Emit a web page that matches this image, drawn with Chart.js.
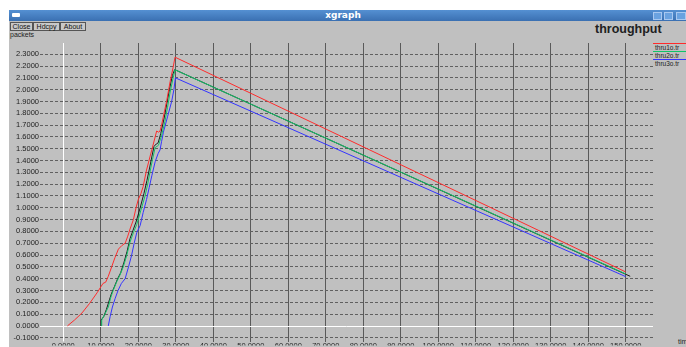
<!DOCTYPE html>
<html>
<head>
<meta charset="utf-8">
<script src="https://cdn.jsdelivr.net/npm/chart.js@4/dist/chart.umd.min.js"></script>
<style>
  html, body { margin: 0; padding: 0; background: #ffffff; }
  body { width: 686px; height: 347px; position: relative; overflow: hidden;
         font-family: "Liberation Sans", Arial, sans-serif; }
  #win { position: absolute; left: 9px; top: 10px; width: 677px; height: 337px; background: #c0c0c0; }
  #titlebar { position: absolute; left: 9px; top: 10px; width: 677px; height: 11px;
              background: linear-gradient(#5590d2, #3a70b2); }
  #titletext { position: absolute; left: 0; width: 686px; top: 10px; height: 11px; line-height: 11px;
               text-align: center; color: #ffffff; font: bold 9px "DejaVu Sans", sans-serif; }
  #wicon { position: absolute; left: 12px; top: 13px; width: 8px; height: 4px; background: #ffffff; border-radius: 1px; }
  .wbtn { position: absolute; top: 12px; width: 9px; height: 8px; background: #6aa2e0;
          border: 1px solid #a8c8f0; box-sizing: border-box; }
  .btn { position: absolute; top: 22px; height: 9px; line-height: 8px; font-size: 7px; color: #111;
         background: #c8c8c8; border: 1px solid #555; box-sizing: border-box; text-align: center; }
  #ylabel { position: absolute; left: 10px; top: 31px; font-size: 7px; color: #222; }
  #ctitle { position: absolute; left: 595px; top: 22px; font: bold 12.5px "Liberation Sans", sans-serif; color: #202020; }
  #xlabel { position: absolute; left: 678px; top: 338px; font-size: 7px; color: #222; }
  .leg { position: absolute; left: 653px; width: 33px; font-size: 6.5px; color: #222; line-height: 7px;
         border-top: 1px solid; padding-left: 2px; box-sizing: border-box; }
  #c { position: absolute; left: 0; top: 0; }
</style>
</head>
<body>
<div id="win"></div>
<div id="titlebar"></div>
<div id="wicon"></div>
<div id="titletext">xgraph</div>
<div class="wbtn" style="left:653px"></div>
<div class="wbtn" style="left:664px"></div>
<div class="wbtn" style="left:676px; width:10px"></div>
<div class="btn" style="left:10px; width:23px">Close</div>
<div class="btn" style="left:33px; width:27px">Hdcpy</div>
<div class="btn" style="left:60px; width:26px">About</div>
<div id="ylabel">packets</div>
<div id="ctitle">throughput</div>
<div id="xlabel">time</div>
<div id="legend"></div>
<canvas id="c" width="686" height="347"></canvas>
<script>
// Trace files and their colours
const seriesNames = ['thru1o.tr', 'thru2o.tr', 'thru3o.tr'];
const seriesColors = ['#ff2b2b', '#10c468', '#3434ff'];
const traceColor = '#1c1c1c';

// thru1o.tr : time / packets
const thru1X = [1.1, 3.0, 5.0, 7.0, 9.0, 10.0, 10.6, 11.3, 12.0, 12.9, 13.8, 14.7, 15.6, 16.5, 17.2, 17.8, 18.7, 19.4, 20.0, 20.7, 21.3, 22.2, 22.7, 23.1, 23.6, 24.5, 24.9, 25.4, 25.8, 26.2, 27.0, 27.6, 28.5, 29.3, 29.8, 150.0];
const thru1Y = [0.0, 0.05, 0.11, 0.19, 0.28, 0.33, 0.36, 0.37, 0.42, 0.50, 0.58, 0.65, 0.68, 0.70, 0.76, 0.82, 0.90, 1.00, 1.07, 1.12, 1.18, 1.32, 1.38, 1.43, 1.49, 1.60, 1.65, 1.64, 1.65, 1.70, 1.82, 1.91, 2.07, 2.19, 2.275, 0.457];

// thru2o.tr
const thru2X = [10.2, 10.25, 11.1, 12.0, 12.7, 13.3, 14.2, 15.1, 16.0, 16.9, 17.8, 18.7, 19.6, 20.7, 21.8, 22.5, 23.1, 23.8, 24.5, 25.0, 25.4, 26.2, 27.1, 27.8, 28.5, 29.3, 29.8, 150.0];
const thru2Y = [0.0, 0.05, 0.10, 0.16, 0.245, 0.30, 0.37, 0.43, 0.50, 0.595, 0.71, 0.79, 0.86, 0.98, 1.10, 1.20, 1.30, 1.41, 1.51, 1.52, 1.53, 1.61, 1.73, 1.85, 1.98, 2.10, 2.168, 0.44];

// thru3o.tr
const thru3X = [12.0, 12.5, 13.1, 13.8, 14.6, 15.5, 16.5, 17.4, 18.2, 18.9, 19.6, 20.5, 21.3, 22.2, 22.9, 23.6, 24.5, 25.3, 25.8, 26.2, 26.7, 27.8, 28.9, 29.5, 29.9, 150.0];
const thru3Y = [0.0, 0.08, 0.16, 0.23, 0.30, 0.36, 0.40, 0.50, 0.595, 0.70, 0.79, 0.85, 0.96, 1.07, 1.17, 1.27, 1.39, 1.46, 1.49, 1.56, 1.64, 1.77, 1.90, 2.00, 2.10, 0.417];

// dark trace running alongside thru2o.tr
const traceX = [10.1, 10.1, 10.8, 11.5, 12.3, 12.8, 13.6, 14.5, 15.3, 16.2, 17.0, 17.8, 18.6, 19.4, 20.5, 21.5, 22.3, 22.9, 23.6, 24.2, 24.8, 25.3, 26.0, 26.9, 27.6, 28.3, 29.1, 29.7, 151.2];
const traceY = [0.0, 0.05, 0.08, 0.14, 0.22, 0.27, 0.33, 0.40, 0.45, 0.54, 0.63, 0.74, 0.81, 0.88, 1.00, 1.12, 1.23, 1.32, 1.43, 1.52, 1.54, 1.55, 1.63, 1.76, 1.88, 2.00, 2.12, 2.17, 0.42];

// Axis ticks
const xTicks = [0, 10, 20, 30, 40, 50, 60, 70, 80, 90, 100, 110, 120, 130, 140, 150];
const yTicks = [-0.1, 0.0, 0.1, 0.2, 0.3, 0.4, 0.5, 0.6, 0.7, 0.8, 0.9, 1.0, 1.1, 1.2, 1.3, 1.4, 1.5, 1.6, 1.7, 1.8, 1.9, 2.0, 2.1, 2.2, 2.3];

const pts = (xs, ys) => xs.map((x, i) => ({ x: x, y: ys[i] }));

// Legend entries: coloured line above each file name
const legendTops = [43, 51, 59];
const legend = document.getElementById('legend');
seriesNames.forEach((name, i) => {
  const d = document.createElement('div');
  d.className = 'leg';
  d.style.top = legendTops[i] + 'px';
  d.style.borderTopColor = seriesColors[i];
  d.textContent = name;
  legend.appendChild(d);
});

const line = (label, data, color) => ({
  label: label, data: data, borderColor: color, backgroundColor: color,
  borderWidth: 1, pointRadius: 0, showLine: true, tension: 0, fill: false
});

// White lines through the origin
const zeroLines = {
  id: 'zeroLines',
  beforeDatasetsDraw(chart) {
    const { ctx, chartArea: a, scales: { x, y } } = chart;
    ctx.save();
    ctx.strokeStyle = '#ffffff';
    ctx.lineWidth = 1;
    const px = Math.round(x.getPixelForValue(0)) + 0.5;
    const py = Math.round(y.getPixelForValue(0)) + 0.5;
    ctx.beginPath();
    ctx.moveTo(px, a.top); ctx.lineTo(px, a.bottom);
    ctx.moveTo(a.left, py); ctx.lineTo(a.right, py);
    ctx.stroke();
    ctx.restore();
  }
};

Chart.defaults.font.family = '"Liberation Sans", Arial, sans-serif';

new Chart(document.getElementById('c'), {
  type: 'scatter',
  data: {
    datasets: [
      line(seriesNames[0], pts(thru1X, thru1Y), seriesColors[0]),
      line(seriesNames[1], pts(thru2X, thru2Y), seriesColors[1]),
      line(seriesNames[2], pts(thru3X, thru3Y), seriesColors[2]),
      line('', pts(traceX, traceY), traceColor)
    ]
  },
  options: {
    responsive: false,
    animation: false,
    events: [],
    layout: { padding: { top: 43, right: 33, left: 0, bottom: 0 } },
    plugins: { legend: { display: false }, tooltip: { enabled: false } },
    scales: {
      x: {
        type: 'linear', min: -6.214, max: 157.28,
        afterBuildTicks: (axis) => { axis.ticks = xTicks.map(v => ({ value: v })); },
        afterFit: (scale) => { scale.height = 4; },
        grid: {
          drawTicks: false,
          color: (c) => (c.tick && c.tick.value === 0) ? 'rgba(0,0,0,0)' : '#5a5a5a',
          lineWidth: 1
        },
        border: { display: false },
        ticks: {
          autoSkip: false, maxRotation: 0, padding: 0,
          color: '#222222', font: { size: 7.5 },
          callback: (v) => Number(v).toFixed(4)
        }
      },
      y: {
        type: 'linear', min: -0.132, max: 2.395,
        afterBuildTicks: (axis) => { axis.ticks = yTicks.map(v => ({ value: v })); },
        afterFit: (scale) => { scale.width = 40; },
        grid: {
          drawTicks: false,
          color: (c) => (c.tick && Math.abs(c.tick.value) < 1e-9) ? 'rgba(0,0,0,0)' : '#606060',
          lineWidth: 1
        },
        border: { display: false, dash: [3, 2] },
        ticks: {
          autoSkip: false, padding: 1,
          color: '#222222', font: { size: 7.5 },
          callback: (v) => Number(v).toFixed(4)
        }
      }
    }
  },
  plugins: [zeroLines]
});
</script>
</body>
</html>
